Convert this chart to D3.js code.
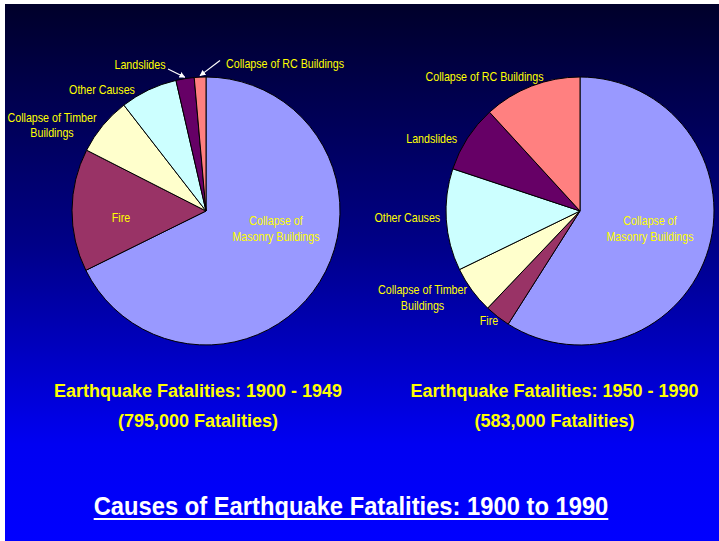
<!DOCTYPE html>
<html>
<head>
<meta charset="utf-8">
<script src="https://cdn.jsdelivr.net/npm/d3@7"></script>
<style>
  html, body { margin: 0; padding: 0; background: #ffffff; }
  svg { display: block; }
</style>
</head>
<body>
<svg id="chart" width="719" height="541"></svg>
<script>
// Causes of earthquake fatalities, share of deaths (%) per period
const causes = [
  "Collapse of Masonry Buildings",
  "Fire",
  "Collapse of Timber Buildings",
  "Other Causes",
  "Landslides",
  "Collapse of RC Buildings"
];
const causeLabelLines = [
  ["Collapse of", "Masonry Buildings"],
  ["Fire"],
  ["Collapse of Timber", "Buildings"],
  ["Other Causes"],
  ["Landslides"],
  ["Collapse of RC Buildings"]
];
const shares1900to1949 = [67.7, 14.8, 7.0, 6.9, 2.2, 1.4];
const shares1950to1990 = [59.0, 3.1, 5.7, 12.3, 8.1, 11.8];
const sliceColors = ["#9999FF", "#993366", "#FFFFCC", "#CCFFFF", "#660066", "#FF8080"];
const periodTitles = ["Earthquake Fatalities: 1900 - 1949", "Earthquake Fatalities: 1950 - 1990"];
const periodTotals = ["(795,000 Fatalities)", "(583,000 Fatalities)"];
const mainTitle = "Causes of Earthquake Fatalities: 1900 to 1990";

const W = 719, H = 541;
const FONT = "Arial, 'Liberation Sans', sans-serif";
const YELLOW = "#FFFF00";
const svg = d3.select("#chart");

// Slide background: dark navy at the top fading into bright blue
const defs = svg.append("defs");
const grad = defs.append("linearGradient")
  .attr("id", "bg").attr("gradientUnits", "userSpaceOnUse")
  .attr("x1", 0).attr("y1", 4).attr("x2", 0).attr("y2", H);
grad.append("stop").attr("offset", 0).attr("stop-color", "#00002A");
grad.append("stop").attr("offset", 0.45).attr("stop-color", "#000088");
grad.append("stop").attr("offset", 0.82).attr("stop-color", "#0000F2");
grad.append("stop").attr("offset", 1).attr("stop-color", "#0000FF");
svg.append("rect").attr("x", 5).attr("y", 4).attr("width", W - 5).attr("height", H - 4)
  .attr("fill", "url(#bg)");

defs.append("marker")
  .attr("id", "arrowhead").attr("viewBox", "0 0 10 10")
  .attr("refX", 9).attr("refY", 5)
  .attr("markerWidth", 6).attr("markerHeight", 6)
  .attr("markerUnits", "userSpaceOnUse")
  .attr("orient", "auto")
  .append("path").attr("d", "M0,0 L10,5 L0,10 Z").attr("fill", "#FFFFFF");

// Layout of the two pies and where each cause label sits
const panels = [
  {
    values: shares1900to1949, cx: 206, cy: 211, r: 134, titleX: 198,
    labels: [[276, 225], [121, 221.5], [52, 121.5], [102, 94.3], [140, 69], [285, 68.3]],
    arrows: { 4: [168, 69], 5: [220, 60.5] }
  },
  {
    values: shares1950to1990, cx: 580, cy: 211, r: 134, titleX: 554.5,
    labels: [[650, 225], [489, 325], [422.5, 294.3], [407.3, 221.7], [431.7, 143.3], [484.5, 80.7]],
    arrows: {}
  }
];

const pie = d3.pie().sort(null).startAngle(0).endAngle(2 * Math.PI);

panels.forEach((p, pi) => {
  const arcs = pie(p.values);
  const arc = d3.arc().innerRadius(0).outerRadius(p.r);
  const g = svg.append("g").attr("transform", `translate(${p.cx},${p.cy})`);

  g.selectAll("path.slice").data(arcs).enter().append("path")
    .attr("class", "slice")
    .attr("d", arc)
    .attr("fill", (d, i) => sliceColors[i])
    .attr("stroke", "#000000")
    .attr("stroke-width", 1)
    .attr("stroke-linejoin", "round");

  // Leader arrows for slivers too thin to hold a label
  Object.entries(p.arrows).forEach(([idx, tail]) => {
    const a = arcs[+idx];
    const mid = (a.startAngle + a.endAngle) / 2;
    const tipX = p.cx + (p.r + 1.5) * Math.sin(mid);
    const tipY = p.cy - (p.r + 1.5) * Math.cos(mid);
    svg.append("line")
      .attr("x1", tail[0]).attr("y1", tail[1])
      .attr("x2", tipX).attr("y2", tipY)
      .attr("stroke", "#FFFFFF").attr("stroke-width", 1.2)
      .attr("marker-end", "url(#arrowhead)");
  });

  // Cause labels, set in a slightly condensed face
  causes.forEach((c, i) => {
    const [lx, ly] = p.labels[i];
    const t = svg.append("text")
      .attr("transform", `translate(${lx},${ly}) scale(0.89,1)`)
      .attr("text-anchor", "middle")
      .attr("font-family", FONT).attr("font-size", 12)
      .attr("fill", YELLOW);
    causeLabelLines[i].forEach((line, li) => {
      t.append("tspan").attr("x", 0).attr("dy", li === 0 ? 0 : 15.8).text(line);
    });
  });

  // Period titles under each pie
  svg.append("text")
    .attr("x", p.titleX).attr("y", 396.5)
    .attr("text-anchor", "middle")
    .attr("font-family", FONT).attr("font-weight", "bold").attr("font-size", 18)
    .attr("fill", YELLOW)
    .text(periodTitles[pi]);
  svg.append("text")
    .attr("x", p.titleX).attr("y", 426.5)
    .attr("text-anchor", "middle")
    .attr("font-family", FONT).attr("font-weight", "bold").attr("font-size", 18)
    .attr("fill", YELLOW)
    .text(periodTotals[pi]);
});

// Underlined slide title
const title = svg.append("text")
  .attr("transform", "translate(351,514.5) scale(0.95,1)")
  .attr("text-anchor", "middle")
  .attr("font-family", FONT).attr("font-weight", "bold").attr("font-size", 25)
  .attr("fill", "#FFFFFF")
  .text(mainTitle);
const tw = title.node().getBBox().width * 0.95;
svg.append("rect")
  .attr("x", 351 - tw / 2).attr("y", 518)
  .attr("width", tw).attr("height", 2)
  .attr("fill", "#FFFFFF");
</script>
</body>
</html>
